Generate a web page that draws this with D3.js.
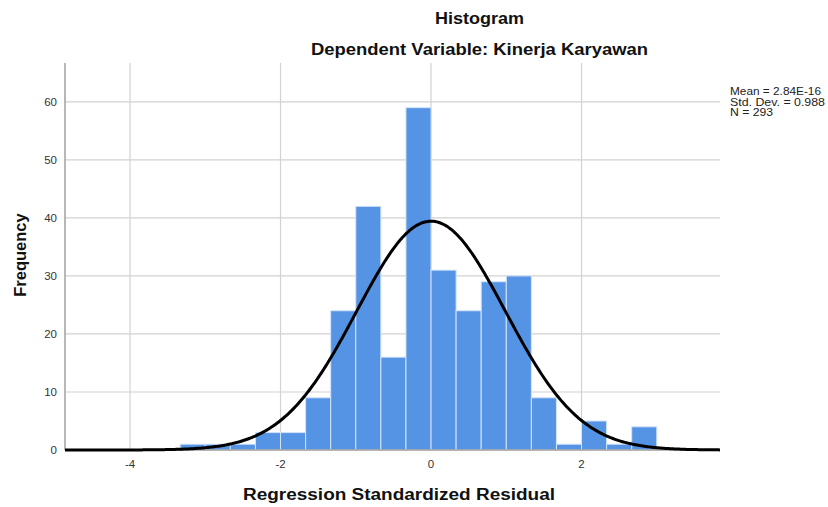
<!DOCTYPE html>
<html>
<head>
<meta charset="utf-8">
<script src="https://cdn.jsdelivr.net/npm/d3@7"></script>
<style>
  body { margin: 0; background: #fff; }
  text { font-family: Arial, "Liberation Sans", sans-serif; }
</style>
</head>
<body>
<svg id="chart" width="828" height="507"></svg>
<script>
// histogram of residuals, bins of 1/3 starting at -10/3
var binStart = -10 / 3;
var binWidth = 1 / 3;
var counts = [1, 1, 1, 3, 3, 9, 24, 42, 16, 59, 31, 24, 29, 30, 9, 1, 5, 1, 4];
var xTicks = [-4, -2, 0, 2];
var yTicks = [0, 10, 20, 30, 40, 50, 60];
var mean = 2.84e-16;
var sd = 0.988;
var n = 293;
var legendLines = ["Mean = 2.84E-16", "Std. Dev. = 0.988", "N = 293"];
var legendWidths = [91, 95, 43];

var plotLeft = 65, plotRight = 720, plotTop = 63, plotBottom = 450;

var svg = d3.select("#chart");

var x = d3.scaleLinear().domain([-4.864, 3.84]).range([plotLeft, plotRight]);
var y = d3.scaleLinear().domain([0, 66.7]).range([plotBottom, plotTop]);

var bins = counts.map(function(c, i) {
  return { x0: binStart + i * binWidth, x1: binStart + (i + 1) * binWidth, count: c };
});

// grid
svg.append("g").selectAll("line")
  .data(yTicks.filter(function(d) { return d > 0; })).enter()
  .append("line")
  .attr("x1", plotLeft).attr("x2", plotRight)
  .attr("y1", function(d) { return y(d); }).attr("y2", function(d) { return y(d); })
  .attr("stroke", "#d2d2d2").attr("stroke-width", 1.2);

svg.append("g").selectAll("line")
  .data(xTicks).enter()
  .append("line")
  .attr("x1", function(d) { return x(d); }).attr("x2", function(d) { return x(d); })
  .attr("y1", plotTop).attr("y2", plotBottom)
  .attr("stroke", "#d2d2d2").attr("stroke-width", 1.2);

// bars
svg.append("g").selectAll("rect")
  .data(bins).enter()
  .append("rect")
  .attr("x", function(d) { return x(d.x0); })
  .attr("width", function(d) { return x(d.x1) - x(d.x0); })
  .attr("y", function(d) { return y(d.count); })
  .attr("height", function(d) { return plotBottom - y(d.count); })
  .attr("fill", "#5594e4")
  .attr("stroke", "#d3e3f8")
  .attr("stroke-width", 1);

// axis lines
svg.append("line")
  .attr("x1", plotLeft).attr("x2", plotLeft).attr("y1", plotTop).attr("y2", plotBottom)
  .attr("stroke", "#a0a0a0").attr("stroke-width", 1.5);
svg.append("line")
  .attr("x1", plotLeft).attr("x2", plotRight).attr("y1", plotBottom).attr("y2", plotBottom)
  .attr("stroke", "#a0a0a0").attr("stroke-width", 1.5);

// tick labels
svg.append("g").selectAll("text")
  .data(yTicks).enter()
  .append("text")
  .attr("x", plotLeft - 8)
  .attr("y", function(d) { return y(d) + 4; })
  .attr("text-anchor", "end")
  .attr("font-size", 11.5)
  .attr("fill", "#333")
  .text(function(d) { return d; });

svg.append("g").selectAll("text")
  .data(xTicks).enter()
  .append("text")
  .attr("x", function(d) { return x(d); })
  .attr("y", plotBottom + 18)
  .attr("text-anchor", "middle")
  .attr("font-size", 11.5)
  .attr("fill", "#333")
  .text(function(d) { return d; });

// normal curve scaled to counts
var curveXs = d3.range(-4.864, 3.84, 0.02).concat([3.84]);
var line = d3.line()
  .x(function(d) { return x(d); })
  .y(function(d) {
    var z = (d - mean) / sd;
    return y(n * binWidth * Math.exp(-0.5 * z * z) / (sd * Math.sqrt(2 * Math.PI)));
  });
svg.append("path")
  .datum(curveXs)
  .attr("d", line)
  .attr("fill", "none")
  .attr("stroke", "#000")
  .attr("stroke-width", 3)
  .attr("stroke-linejoin", "round");

// titles
function title(txt, cx, cy, w) {
  svg.append("text").attr("x", cx - w / 2).attr("y", cy)
    .attr("font-size", 16).attr("font-weight", "bold")
    .attr("textLength", w).attr("lengthAdjust", "spacingAndGlyphs")
    .attr("fill", "#111").text(txt);
}
title("Histogram", 479.5, 24, 89);
title("Dependent Variable: Kinerja Karyawan", 479.5, 55, 337);
title("Regression Standardized Residual", 399, 500, 312);

svg.append("text")
  .attr("transform", "translate(26," + 255 + ") rotate(-90)")
  .attr("text-anchor", "middle").attr("font-size", 16.5).attr("font-weight", "bold")
  .attr("fill", "#111").text("Frequency");

// stats box
svg.append("g").selectAll("text")
  .data(legendLines).enter()
  .append("text")
  .attr("x", 730)
  .attr("y", function(d, i) { return 95 + i * 10.5; })
  .attr("font-size", 10.5)
  .attr("textLength", function(d, i) { return legendWidths[i]; })
  .attr("lengthAdjust", "spacingAndGlyphs")
  .attr("fill", "#222")
  .text(function(d) { return d; });
</script>
</body>
</html>
